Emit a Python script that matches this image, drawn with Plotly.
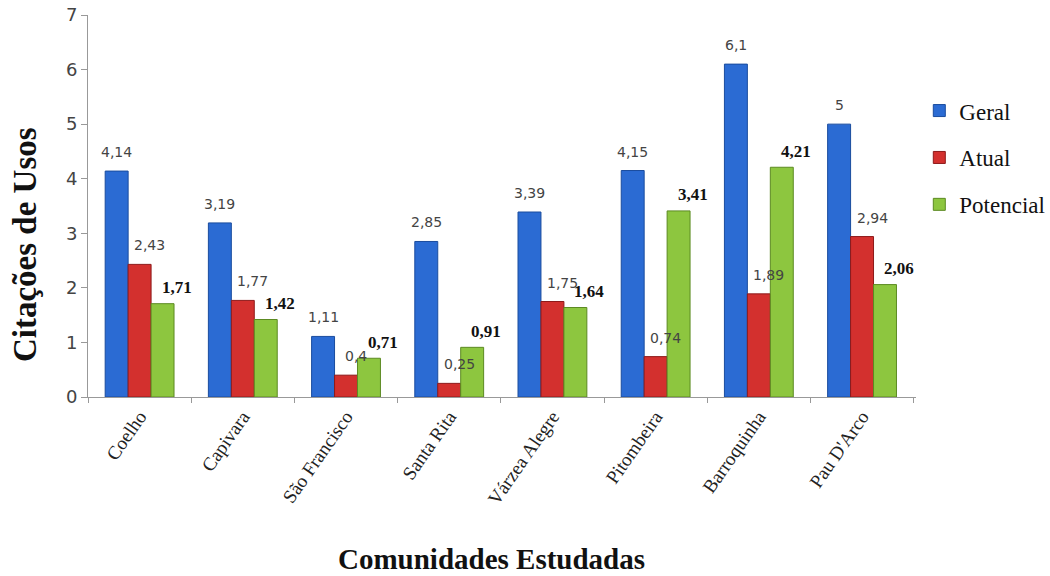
import plotly.graph_objects as go

comunidades = ["Coelho", "Capivara", "São Francisco", "Santa Rita", "Várzea Alegre",
               "Pitombeira", "Barroquinha", "Pau D'Arco"]
geral = [4.14, 3.19, 1.11, 2.85, 3.39, 4.15, 6.1, 5]
atual = [2.43, 1.77, 0.4, 0.25, 1.75, 0.74, 1.89, 2.94]
potencial = [1.71, 1.42, 0.71, 0.91, 1.64, 3.41, 4.21, 2.06]
y_ticks = [0, 1, 2, 3, 4, 5, 6, 7]

series = [
    ("Geral", geral, "#2B6BD3", "#1A4C9E"),
    ("Atual", atual, "#D3302E", "#8E1A1A"),
    ("Potencial", potencial, "#8DC63F", "#5C8A22"),
]

SERIF = "Liberation Serif, Times New Roman, serif"

fig = go.Figure()
for name, vals, col, line in series:
    fig.add_trace(go.Bar(
        x=comunidades, y=vals, name=name, legendgroup=name,
        marker=dict(color=col, line=dict(color=line, width=1)),
    ))

bargap = 0.333
bw = (1 - bargap) / 3
label_style = {
    "Geral": dict(font=dict(family="DejaVu Sans", size=14, color="#444"), xs=0, ys=19),
    "Atual": dict(font=dict(family="DejaVu Sans", size=14, color="#444"), xs=10, ys=19),
    "Potencial": dict(font=dict(family=SERIF, size=17, color="#111", weight="bold"), xs=14, ys=16),
}
annotations = []
for k, (name, vals, col, line) in enumerate(series):
    st = label_style[name]
    for i, v in enumerate(vals):
        annotations.append(dict(
            x=i + (k - 1) * bw, y=v, xref="x", yref="y",
            text=f"{v:g}".replace(".", ","), showarrow=False,
            font=st["font"], xshift=st["xs"], yshift=st["ys"],
        ))

annotations.append(dict(
    text="<b>Comunidades Estudadas</b>", x=0.487, y=-0.425, xref="paper", yref="paper",
    xanchor="center", yanchor="middle",
    showarrow=False, font=dict(family=SERIF, size=29, color="#111"),
))
annotations.append(dict(
    text="<b>Citações de Usos</b>", x=-0.076, y=0.398, xref="paper", yref="paper",
    xanchor="center", yanchor="middle",
    showarrow=False, textangle=-90, font=dict(family=SERIF, size=33, color="#111"),
))

fig.update_layout(
    width=1050, height=576,
    margin=dict(l=88, r=134, t=15, b=179, autoexpand=False),
    paper_bgcolor="white", plot_bgcolor="white",
    barmode="group", bargap=bargap, bargroupgap=0,
    annotations=annotations,
    legend=dict(x=1.004, y=0.806, xanchor="left", yanchor="top",
                font=dict(family=SERIF, size=23, color="#111"),
                tracegroupgap=14, itemwidth=30),
    showlegend=True,
)
fig.update_xaxes(
    showline=True, linecolor="#999", linewidth=1,
    ticks="outside", tickson="boundaries", ticklen=5, tickcolor="#999",
    tickangle=-55, tickfont=dict(family=SERIF, size=19, color="#222"),
    showgrid=False,
)
fig.update_yaxes(
    range=[0, 7], tickvals=y_ticks, showline=True, linecolor="#999", linewidth=1,
    ticks="outside", ticklen=6, tickcolor="#999",
    tickfont=dict(family="DejaVu Sans", size=18, color="#444"),
    showgrid=False, zeroline=False,
)

fig.write_html("out.html")
